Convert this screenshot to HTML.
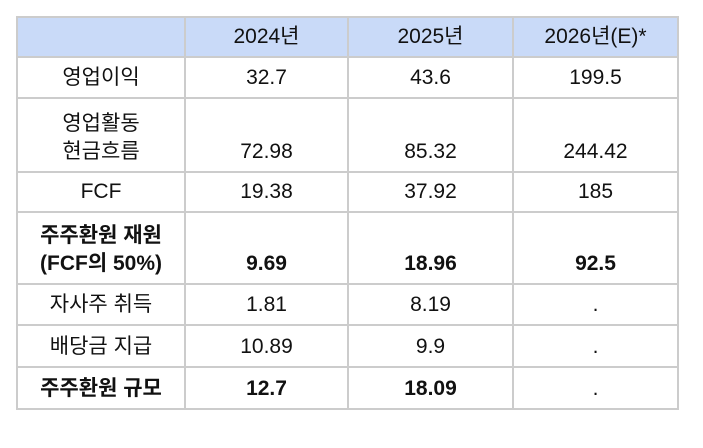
<!DOCTYPE html>
<html><head><meta charset="utf-8"><style>
html,body{margin:0;padding:0;background:#fff;width:703px;height:448px;overflow:hidden}
table{position:absolute;left:16px;top:16px;border-collapse:collapse;font-family:"Liberation Sans","Noto Sans CJK KR",sans-serif;font-size:21px;color:#111}
td{border:2px solid #cccccc;text-align:center;vertical-align:bottom;padding:0 0 5px 0;line-height:28px}
tr.h td{background:#c9daf8;vertical-align:middle;padding:0}
b{font-weight:bold}
</style></head><body>
<table>
<colgroup><col style="width:168px"><col style="width:163px"><col style="width:165px"><col style="width:165px"></colgroup>
<tr class="h" style="height:40px"><td></td><td>2024년</td><td>2025년</td><td>2026년(E)*</td></tr>
<tr style="height:41px"><td>영업이익</td><td>32.7</td><td>43.6</td><td>199.5</td></tr>
<tr style="height:74px"><td>영업활동<br>현금흐름</td><td>72.98</td><td>85.32</td><td>244.42</td></tr>
<tr style="height:40px"><td>FCF</td><td>19.38</td><td>37.92</td><td>185</td></tr>
<tr style="height:72px"><td><b>주주환원 재원<br>(FCF의 50%)</b></td><td><b>9.69</b></td><td><b>18.96</b></td><td><b>92.5</b></td></tr>
<tr style="height:41px"><td>자사주 취득</td><td>1.81</td><td>8.19</td><td>.</td></tr>
<tr style="height:42px"><td>배당금 지급</td><td>10.89</td><td>9.9</td><td>.</td></tr>
<tr style="height:42px"><td><b>주주환원 규모</b></td><td><b>12.7</b></td><td><b>18.09</b></td><td>.</td></tr>
</table>
</body></html>
